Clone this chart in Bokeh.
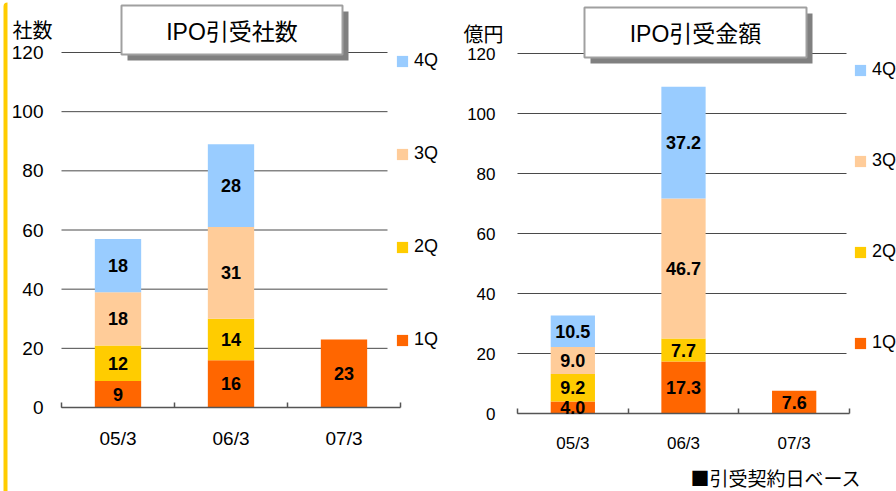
from bokeh.plotting import figure
from bokeh.layouts import row
from bokeh.models import (Range1d, FixedTicker, ColumnDataSource, LabelSet, Label,
                          BoxAnnotation, Legend, LegendItem)
from bokeh.core.properties import value
from bokeh.embed import file_html
from bokeh.resources import INLINE

FONT = "'Liberation Sans', 'Noto Sans CJK JP', sans-serif"
JP_FONT = "'Noto Sans CJK JP', sans-serif"

categories = ["05/3", "06/3", "07/3"]
quarters = ["1Q", "2Q", "3Q", "4Q"]
quarter_colors = ["#FF6600", "#FFCC00", "#FFCC99", "#99CCFF"]
y_ticks = [0, 20, 40, 60, 80, 100, 120]

# IPO underwriting: number of companies per quarter
count_1q = [9, 16, 23]
count_2q = [12, 14, None]
count_3q = [18, 31, None]
count_4q = [18, 28, None]

# IPO underwriting: amount per quarter (100 million yen)
amount_1q = [4.0, 17.3, 7.6]
amount_2q = [9.2, 7.7, None]
amount_3q = [9.0, 46.7, None]
amount_4q = [10.5, 37.2, None]

PAGE_H = 491
FIG_W = 448
Y_MAX = 120


def make_chart(series, fmt, title, unit, plot_box, offset, cfg):
    # plot_box: pixel edges (page coords) of the 0..3 x 0..120 value area
    fl, fr, ft, fb = plot_box
    sx = (fr - fl) / 3.0
    sy = (fb - ft) / float(Y_MAX)

    def dx(px):
        return (px - fl) / sx

    def dy(py):
        return (fb - py) / sy

    # the frame covers the whole canvas so that decorations are not clipped
    p = figure(width=FIG_W, height=PAGE_H,
               x_range=Range1d(dx(offset), dx(offset + FIG_W)),
               y_range=Range1d(dy(PAGE_H), dy(0)),
               output_backend="svg", toolbar_location=None,
               min_border=0, min_border_left=0, min_border_right=0,
               min_border_top=0, min_border_bottom=0)
    p.outline_line_color = None
    p.background_fill_color = "white"
    p.border_fill_color = "white"
    p.xgrid.visible = False
    p.ygrid.visible = False

    # horizontal gridlines across the value area
    p.segment(x0=0, x1=dx(cfg["grid_right"]), y0=y_ticks, y1=y_ticks,
              line_color="#4a4a4a", line_width=1)

    # stacked quarterly bars
    bottoms = [0.0] * len(categories)
    renderers = []
    for q, color, vals in zip(quarters, quarter_colors, series):
        xs, bs, ts, mids, labels = [], [], [], [], []
        for i, v in enumerate(vals):
            if v is None:
                continue
            xs.append(i + 0.5)
            bs.append(bottoms[i])
            ts.append(bottoms[i] + v)
            mids.append(bottoms[i] + v / 2.0)
            labels.append(fmt.format(v))
            bottoms[i] += v
        src = ColumnDataSource(dict(x=xs, bottom=bs, top=ts, mid=mids, label=labels))
        r = p.vbar(x="x", bottom="bottom", top="top", width=cfg["bar_w"], source=src,
                   fill_color=color, line_color=None)
        renderers.append(r)
        p.add_layout(LabelSet(x="x", y="mid", text="label", source=src,
                              text_align="center", text_baseline="middle",
                              text_font=value(FONT), text_font_size=cfg["val_fs"],
                              text_font_style="bold", text_color="black"))

    # value axis, pinned at x = 0
    yax = p.yaxis[0]
    yax.fixed_location = 0
    yax.ticker = FixedTicker(ticks=y_ticks)
    yax.axis_line_color = None
    yax.major_tick_line_color = None
    yax.major_tick_out = 0
    yax.major_tick_in = 0
    yax.minor_tick_line_color = None
    yax.major_label_text_font = FONT
    yax.major_label_text_font_size = cfg["ytick_fs"]
    yax.major_label_text_color = "black"
    yax.major_label_standoff = cfg["ystand"]

    # category axis, pinned at y = 0, with ticks between categories
    xax = p.xaxis[0]
    xax.fixed_location = 0
    xax.bounds = (0, 3)
    xax.ticker = FixedTicker(ticks=[0.5, 1.5, 2.5], minor_ticks=[0, 1, 2, 3])
    xax.major_label_overrides = {i + 0.5: c for i, c in enumerate(categories)}
    xax.axis_line_color = "#555555"
    xax.axis_line_width = 1.5
    xax.major_tick_line_color = None
    xax.major_tick_out = 0
    xax.major_tick_in = 0
    xax.minor_tick_line_color = "#555555"
    xax.minor_tick_line_width = 1.5
    xax.minor_tick_in = 5
    xax.minor_tick_out = 0
    xax.major_label_text_font = FONT
    xax.major_label_text_font_size = cfg["xtick_fs"]
    xax.major_label_text_color = "black"
    xax.major_label_standoff = cfg["xstand"]

    # title box with drop shadow
    bl, br, bt, bb = cfg["title_box"]
    sh = cfg["shadow"]
    p.add_layout(BoxAnnotation(left=dx(bl + sh[0]), right=dx(br + sh[0]),
                               top=dy(bt + sh[1]), bottom=dy(bb + sh[1]),
                               fill_color="#808080", fill_alpha=1, line_color=None))
    p.add_layout(BoxAnnotation(left=dx(bl), right=dx(br), top=dy(bt), bottom=dy(bb),
                               fill_color="white", fill_alpha=1,
                               line_color="#A0A0A0", line_width=2, line_alpha=1))
    p.add_layout(Label(x=dx((bl + br) / 2), y=dy(cfg["title_y"]), text=title,
                       text_align="center", text_baseline="middle",
                       text_font=FONT, text_font_size=cfg["title_fs"], text_color="black"))

    # unit label above the value axis
    p.add_layout(Label(x=dx(cfg["unit_xy"][0]), y=dy(cfg["unit_xy"][1]), text=unit,
                       text_align="left", text_baseline="middle",
                       text_font=JP_FONT, text_font_size=cfg["unit_fs"], text_color="black"))

    # legend, 4Q on top
    lg_left, lg_bottom = cfg["legend_at"]
    legend = Legend(items=[LegendItem(label=q, renderers=[r])
                           for q, r in zip(quarters[::-1], renderers[::-1])],
                    location=(lg_left - offset, PAGE_H - lg_bottom),
                    glyph_width=14, glyph_height=14, label_height=20,
                    spacing=cfg["legend_gap"], padding=0, margin=0,
                    label_standoff=5, border_line_color=None,
                    background_fill_alpha=0,
                    label_text_font=FONT, label_text_font_size=cfg["legend_fs"],
                    label_text_color="black")
    p.add_layout(legend)
    return p, dx, dy


left_cfg = dict(bar_w=0.41, val_fs="18px", ytick_fs="19px", ystand=18, xtick_fs="19px",
                xstand=20, grid_right=387, title_box=(121, 342, 5, 54), shadow=(6, 6),
                title_y=31, title_fs="23px", unit_xy=(12, 29), unit_fs="20px",
                legend_at=(395, 350), legend_gap=72, legend_fs="18px")
right_cfg = dict(bar_w=0.40, val_fs="18px", ytick_fs="17px", ystand=22, xtick_fs="17px",
                 xstand=20, grid_right=846, title_box=(584, 806, 7, 57), shadow=(6, 6),
                 title_y=33, title_fs="23px", unit_xy=(463, 33), unit_fs="20px",
                 legend_at=(853, 353), legend_gap=70, legend_fs="18px")

p1, dx1, dy1 = make_chart([count_1q, count_2q, count_3q, count_4q], "{:d}", "IPO引受社数", "社数",
                          (61, 400, 52, 407), 0, left_cfg)
p2, dx2, dy2 = make_chart([amount_1q, amount_2q, amount_3q, amount_4q], "{:.1f}", "IPO引受金額", "億円",
                          (517, 849, 53, 413), FIG_W, right_cfg)

# yellow accent bar along the left edge
p1.add_layout(BoxAnnotation(left=dx1(3), right=dx1(7), top=dy1(2), bottom=dy1(PAGE_H + 5),
                            fill_color="#FFCC00", fill_alpha=1, line_color=None,
                            border_radius=dict(top_left=4, top_right=0, bottom_left=0, bottom_right=0)))

# footnote
p2.add_layout(Label(x=dx2(690), y=dy2(477), text="■引受契約日ベース",
                    text_align="left", text_baseline="middle",
                    text_font=JP_FONT, text_font_size="19px", text_color="black"))

layout = row(p1, p2, spacing=0)
open("out.html", "w").write(file_html(layout, INLINE))
